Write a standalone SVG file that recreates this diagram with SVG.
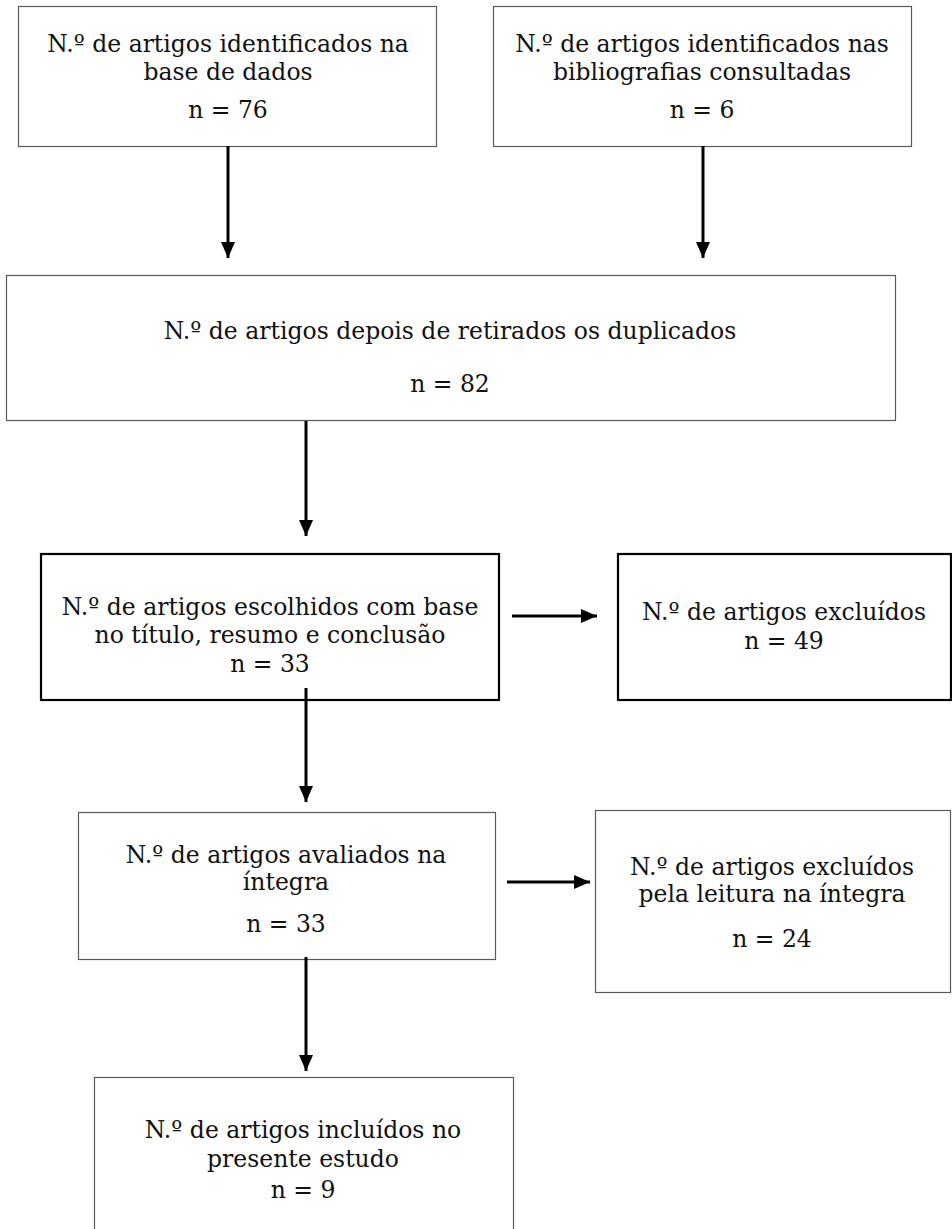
<svg xmlns="http://www.w3.org/2000/svg" width="952" height="1229" viewBox="0 0 952 1229">
<style>
.box{fill:#fff;stroke:#5a5a5a;stroke-width:1.2}
.bold{fill:#fff;stroke:#000;stroke-width:2.2}
text{font-family:"DejaVu Serif","Liberation Serif",serif;font-size:23.5px;fill:#111;text-anchor:middle}
.conn{stroke:#000;stroke-width:3;fill:none}
</style>
<defs>
<marker id="ah" markerWidth="16" markerHeight="14" refX="16" refY="7" orient="auto" markerUnits="userSpaceOnUse" viewBox="0 0 16 14">
<path d="M0,0 L16,7 L0,14 z" fill="#000"/>
</marker>
</defs>
<rect width="952" height="1229" fill="#fff"/>
<g id="n1"><rect class="box" x="18.5" y="6.5" width="418" height="140"/>
<text><tspan x="228" y="52">N.º de artigos identificados na</tspan><tspan x="228" y="80">base de dados</tspan><tspan x="228" y="118">n = 76</tspan></text></g>
<g id="n2"><rect class="box" x="493.5" y="6.5" width="418" height="140"/>
<text><tspan x="702" y="52">N.º de artigos identificados nas</tspan><tspan x="702" y="80">bibliografias consultadas</tspan><tspan x="702" y="118">n = 6</tspan></text></g>
<g id="n3"><rect class="box" x="6.5" y="275.5" width="889" height="145"/>
<text><tspan x="450" y="339">N.º de artigos depois de retirados os duplicados</tspan><tspan x="450" y="392">n = 82</tspan></text></g>
<g id="n4"><rect class="bold" x="41" y="554" width="458" height="146"/>
<text><tspan x="270" y="615">N.º de artigos escolhidos com base</tspan><tspan x="270" y="643">no título, resumo e conclusão</tspan><tspan x="270" y="672">n = 33</tspan></text></g>
<g id="n5"><rect class="bold" x="618" y="554" width="333" height="146"/>
<text><tspan x="784" y="620">N.º de artigos excluídos</tspan><tspan x="784" y="649">n = 49</tspan></text></g>
<g id="n6"><rect class="box" x="78.5" y="812.5" width="417" height="147"/>
<text><tspan x="286" y="863">N.º de artigos avaliados na</tspan><tspan x="286" y="890">íntegra</tspan><tspan x="286" y="932">n = 33</tspan></text></g>
<g id="n7"><rect class="box" x="595.5" y="810.5" width="355" height="182"/>
<text><tspan x="772" y="875">N.º de artigos excluídos</tspan><tspan x="772" y="902">pela leitura na íntegra</tspan><tspan x="772" y="947">n = 24</tspan></text></g>
<g id="n8"><rect class="box" x="94.5" y="1077.5" width="419" height="160"/>
<text><tspan x="303" y="1138">N.º de artigos incluídos no</tspan><tspan x="303" y="1167">presente estudo</tspan><tspan x="303" y="1198">n = 9</tspan></text></g>
<g id="connectors">
<path class="conn" d="M228,146 V258" marker-end="url(#ah)"/>
<path class="conn" d="M703,146 V258" marker-end="url(#ah)"/>
<path class="conn" d="M306,421 V536" marker-end="url(#ah)"/>
<path class="conn" d="M512,616 H597" marker-end="url(#ah)"/>
<path class="conn" d="M306,688 V802" marker-end="url(#ah)"/>
<path class="conn" d="M507,882 H590" marker-end="url(#ah)"/>
<path class="conn" d="M306,957 V1071" marker-end="url(#ah)"/>
</g>
</svg>
